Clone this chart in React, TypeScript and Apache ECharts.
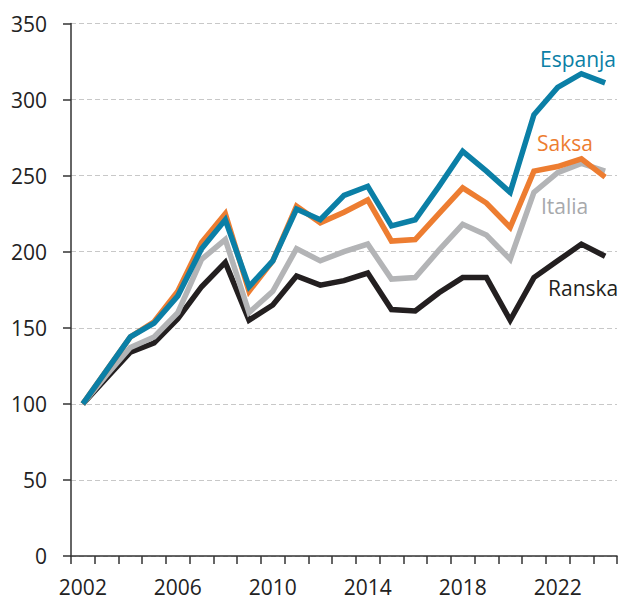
import React, { useEffect, useRef } from "react";
import * as echarts from "echarts";

const years = [
  "2002", "2003", "2004", "2005", "2006", "2007", "2008", "2009", "2010", "2011", "2012",
  "2013", "2014", "2015", "2016", "2017", "2018", "2019", "2020", "2021", "2022", "2023", "2024",
];
const espanja = [100, 122, 144, 153, 171, 202, 221, 177, 194, 228, 221, 237, 243, 217, 221, 243, 266, 253, 239, 290, 308, 317, 311];
const saksa = [100, 122, 144, 154, 174, 206, 225, 174, 194, 230, 219, 226, 234, 207, 208, 225, 242, 232, 216, 253, 256, 261, 249];
const italia = [100, 119, 137, 144, 160, 195, 208, 160, 174, 202, 194, 200, 205, 182, 183, 201, 218, 211, 195, 239, 252, 258, 253];
const ranska = [100, 117, 134, 140, 156, 177, 193, 155, 165, 184, 178, 181, 186, 162, 161, 173, 183, 183, 155, 183, 194, 205, 197];

const seriesNames = ["Ranska", "Italia", "Saksa", "Espanja"];
const seriesColors = ["#231f20", "#b3b4b6", "#ed7d31", "#0b7fa6"];
const labelColors = ["#231f20", "#a7a9ac", "#ed7d31", "#0b7fa6"];
const seriesData = [ranska, italia, saksa, espanja];
const labelPos = [
  [548, 288],
  [541, 206],
  [537, 143],
  [540, 59],
];

const FONT = "'Open Sans', 'Noto Sans', sans-serif";

export default function App() {
  const ref = useRef<HTMLDivElement>(null);
  useEffect(() => {
    if (!ref.current) return;
    const chart = echarts.init(ref.current, null, { renderer: "svg" });
    chart.setOption({
      animation: false,
      backgroundColor: "#ffffff",
      grid: { left: 71, right: 13, top: 23.5, bottom: 43, containLabel: false },
      xAxis: {
        type: "category",
        data: years,
        boundaryGap: true,
        axisLine: { lineStyle: { color: "#333333", width: 1.5 } },
        axisTick: { show: true, interval: 0, length: 8, lineStyle: { color: "#333333", width: 1.5 } },
        axisLabel: {
          interval: 3,
          margin: 20,
          color: "#222222",
          fontSize: 21,
          fontFamily: FONT,
        },
        splitLine: { show: false },
      },
      yAxis: {
        type: "value",
        min: 0,
        max: 350,
        interval: 50,
        axisLine: { show: true, lineStyle: { color: "#333333", width: 1.5 } },
        axisTick: { show: true, length: 8, lineStyle: { color: "#333333", width: 1.5 } },
        axisLabel: {
          margin: 24,
          color: "#222222",
          fontSize: 21,
          fontFamily: FONT,
        },
        splitLine: { show: true, lineStyle: { color: "#c8c8c8", width: 1, type: [5, 3] } },
      },
      series: seriesNames.map((name, i) => ({
        name,
        type: "line",
        data: seriesData[i],
        showSymbol: false,
        symbol: "none",
        lineStyle: { color: seriesColors[i], width: 5.5, join: "miter" },
        itemStyle: { color: seriesColors[i] },
        z: 2 + i,
      })),
      graphic: seriesNames.map((name, i) => ({
        type: "text",
        x: labelPos[i][0],
        y: labelPos[i][1],
        z: 100,
        style: {
          text: name,
          fill: labelColors[i],
          font: `21px ${FONT}`,
          textAlign: "left",
          textVerticalAlign: "middle",
        },
      })),
    });
    return () => chart.dispose();
  }, []);
  return (
    <div
      ref={ref}
      style={{ position: "fixed", left: 0, top: 0, width: 630, height: 599, background: "#fff" }}
    />
  );
}
